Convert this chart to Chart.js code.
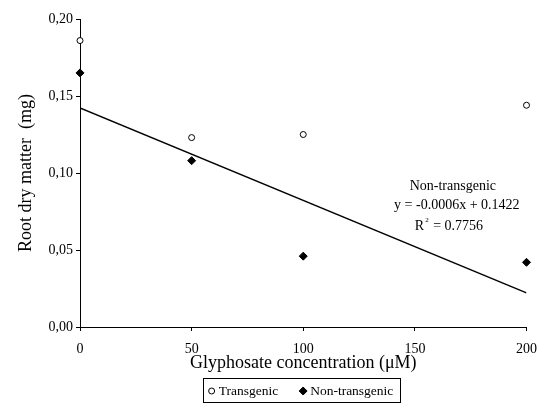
<!DOCTYPE html>
<html lang="en">
<head>
    <meta charset="UTF-8">
    <title>Root dry matter vs glyphosate</title>
    <script src="https://cdn.jsdelivr.net/npm/chart.js"></script>
    <style>
        body {
            margin: 0;
            background: #fff;
        }

        .chart-container {
            width: 547px;
            height: 403px;
            position: relative;
        }
    </style>
</head>
<body>
    <div class="chart-container">
        <canvas id="rootChart"></canvas>
    </div>

    <script>
        // values
        const concentrations = [0, 50, 100, 200];
        const transgenic = [0.186, 0.123, 0.125, 0.144];
        const nonTransgenic = [0.165, 0.108, 0.046, 0.042];
        const trendX = [0, 200];
        const trendY = [0.1422, 0.0222];
        const trendLabels = ['Non-transgenic', 'y = -0.0006x + 0.1422', '0.7756'];

        const serif = "'Liberation Serif', 'Times New Roman', serif";
        Chart.defaults.font.family = serif;
        Chart.defaults.color = '#000';

        function toPoints(xs, ys) {
            return xs.map((x, i) => ({ x: x, y: ys[i] }));
        }

        // equation text next to the trend line
        const equationPlugin = {
            id: 'equation',
            afterDatasetsDraw(chart) {
                const ctx = chart.ctx;
                const x = chart.scales.x.getPixelForValue(167);
                const y = chart.scales.y.getPixelForValue(0.0916);
                ctx.save();
                ctx.fillStyle = '#000';
                ctx.textBaseline = 'middle';
                ctx.font = '14px ' + serif;
                ctx.textAlign = 'center';
                ctx.fillText(trendLabels[0], x, y);
                ctx.fillText(trendLabels[1], x + 4, y + 19);
                ctx.textAlign = 'left';
                let rx = x - 38;
                ctx.fillText('R', rx, y + 40);
                rx += ctx.measureText('R').width;
                ctx.font = '7px ' + serif;
                ctx.fillText('2', rx + 1, y + 34);
                ctx.font = '14px ' + serif;
                ctx.fillText('  = ' + trendLabels[2], rx + 2, y + 40);
                ctx.restore();
            }
        };

        // boxed legend under the x axis title
        const boxLegendPlugin = {
            id: 'boxLegend',
            afterDraw(chart) {
                const ctx = chart.ctx;
                const items = chart.data.datasets.filter(d => d.inLegend);
                ctx.save();
                ctx.font = '13.5px ' + serif;
                ctx.textBaseline = 'middle';
                const widths = items.map(d => 12 + ctx.measureText(d.label).width);
                const total = widths.reduce((a, b) => a + b, 0) + 20 * (items.length - 1) + 10;
                let left = 301 - total / 2;
                const top = 378, h = 24, cy = top + 13;
                ctx.strokeStyle = '#000';
                ctx.lineWidth = 1;
                ctx.strokeRect(Math.round(left) + 0.5, top + 0.5, Math.round(total), h);
                let x = left + 5;
                items.forEach((d, i) => {
                    ctx.fillStyle = d.pointBackgroundColor;
                    ctx.strokeStyle = d.pointBorderColor;
                    ctx.beginPath();
                    if (d.pointStyle === 'circle') {
                        ctx.arc(x + 4, cy, 3, 0, Math.PI * 2);
                    } else {
                        ctx.moveTo(x + 4, cy - 4);
                        ctx.lineTo(x + 8, cy);
                        ctx.lineTo(x + 4, cy + 4);
                        ctx.lineTo(x, cy);
                        ctx.closePath();
                    }
                    ctx.fill();
                    ctx.stroke();
                    ctx.fillStyle = '#000';
                    ctx.fillText(d.label, x + 11, cy);
                    x += widths[i] + 20;
                });
                ctx.restore();
            }
        };

        const ctx = document.getElementById('rootChart').getContext('2d');
        new Chart(ctx, {
            type: 'scatter',
            data: {
                datasets: [{
                    label: 'Transgenic',
                    inLegend: true,
                    data: toPoints(concentrations, transgenic),
                    pointStyle: 'circle',
                    pointRadius: 3,
                    pointBorderWidth: 1,
                    pointBackgroundColor: '#fff',
                    pointBorderColor: '#000',
                    clip: false
                }, {
                    label: 'Non-transgenic',
                    inLegend: true,
                    data: toPoints(concentrations, nonTransgenic),
                    pointStyle: 'rectRot',
                    pointRadius: 4,
                    pointBorderWidth: 1,
                    pointBackgroundColor: '#000',
                    pointBorderColor: '#000',
                    clip: false
                }, {
                    label: 'Trend',
                    type: 'line',
                    data: toPoints(trendX, trendY),
                    showLine: true,
                    borderColor: '#000',
                    borderWidth: 1.4,
                    pointRadius: 0,
                    fill: false
                }]
            },
            options: {
                responsive: true,
                maintainAspectRatio: false,
                animation: false,
                layout: {
                    padding: { left: 0, right: 17, top: 19, bottom: 29 }
                },
                plugins: {
                    legend: { display: false },
                    tooltip: { enabled: false }
                },
                scales: {
                    x: {
                        type: 'linear',
                        min: 0,
                        max: 200,
                        ticks: {
                            stepSize: 50,
                            padding: 10,
                            font: { size: 14 }
                        },
                        grid: {
                            drawOnChartArea: false,
                            tickLength: 4,
                            color: '#000'
                        },
                        border: { color: '#000', width: 1 },
                        title: {
                            display: true,
                            text: 'Glyphosate concentration (μM)',
                            font: { size: 18 },
                            padding: { top: 0, bottom: 0 }
                        },
                        afterFit(scale) {
                            scale.height = 47;
                        }
                    },
                    y: {
                        min: 0,
                        max: 0.2,
                        ticks: {
                            stepSize: 0.05,
                            padding: 3,
                            font: { size: 14 },
                            callback: v => v.toFixed(2).replace('.', ',')
                        },
                        grid: {
                            drawOnChartArea: false,
                            tickLength: 4,
                            color: '#000'
                        },
                        border: { color: '#000', width: 1 },
                        title: {
                            display: true,
                            text: 'Root dry matter  (mg)',
                            font: { size: 18 },
                            padding: { top: 15, bottom: 0 }
                        },
                        afterFit(scale) {
                            scale.width = 80;
                        }
                    }
                }
            },
            plugins: [equationPlugin, boxLegendPlugin]
        });
    </script>
</body>
</html>
